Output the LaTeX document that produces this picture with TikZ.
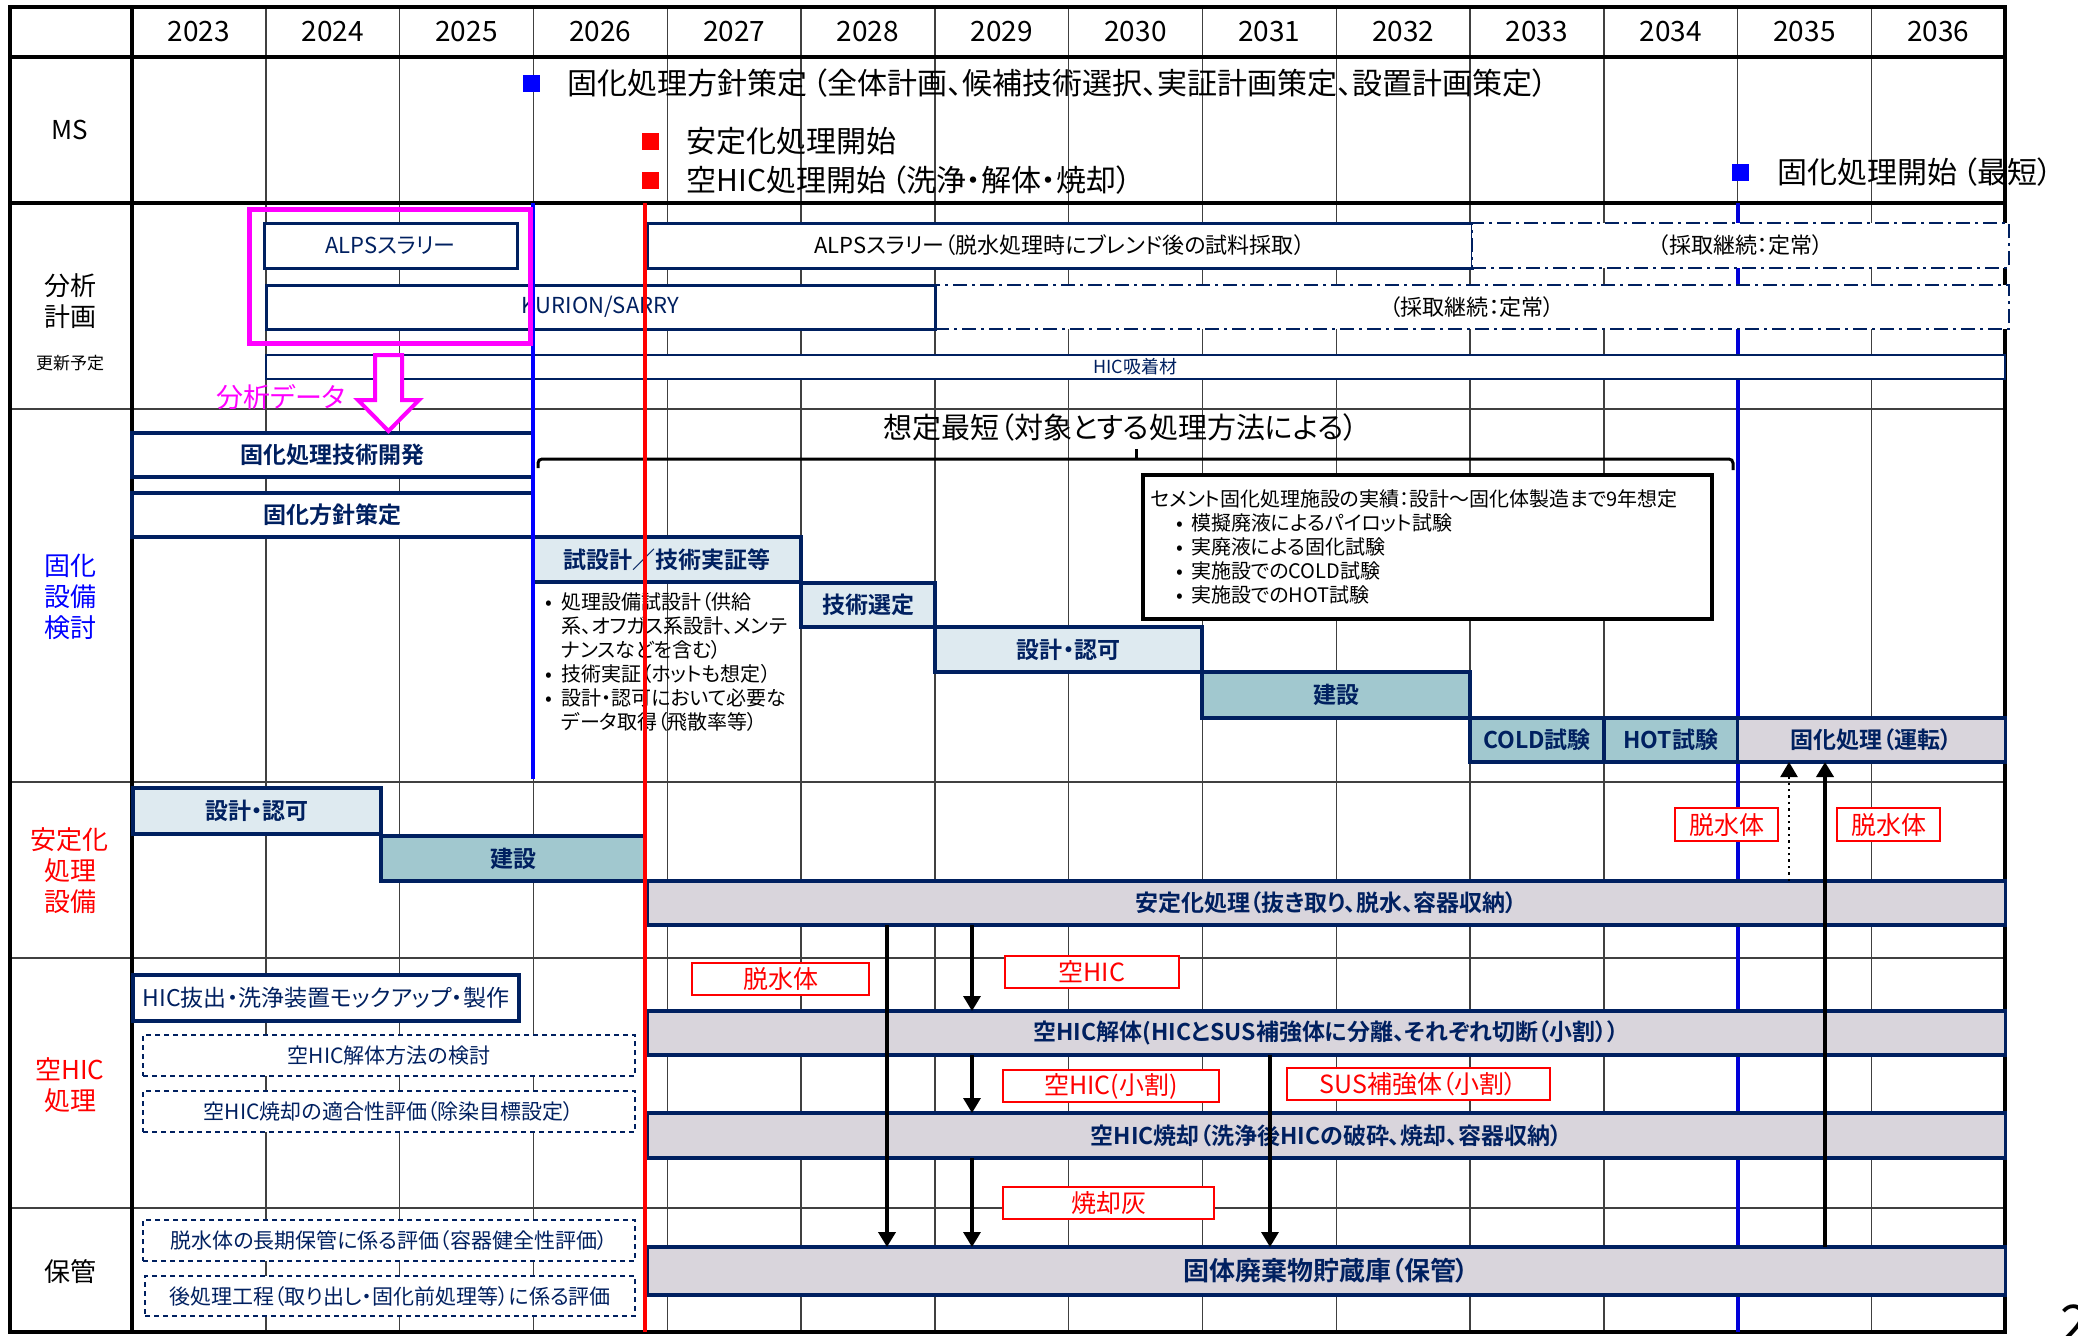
\documentclass[tikz,border=0pt]{standalone}
\usepackage{fontspec}
\setmainfont{Noto Sans CJK JP}[BoldFont={Noto Sans CJK JP Bold},RawFeature=+palt]
\usepackage{tikz}
\usetikzlibrary{arrows.meta}

\definecolor{navy}{HTML}{002060}
\definecolor{gridgray}{HTML}{404040}
\definecolor{paleblue}{HTML}{DEEAF0}
\definecolor{tealfill}{HTML}{A1C8CF}
\definecolor{lilac}{HTML}{D9D5DC}
\definecolor{msblue}{HTML}{0000FF}
\definecolor{msred}{HTML}{FF0000}
\definecolor{pink}{HTML}{FF00FF}

\begin{document}
\begin{tikzpicture}[x=0.5pt,y=-0.5pt,
	gridline/.style={draw=gridgray,line width=0.7pt},
	frame/.style={draw=black,line width=2pt},
	yearlbl/.style={font=\fontsize{14}{15}\selectfont},
	rowlbl/.style={align=center,font=\fontsize{13}{15.5}\selectfont},
	wh/.style 2 args={minimum width=#1*0.5pt,minimum height=#2*0.5pt},
	gbox/.style={draw=navy,inner sep=0pt,outer sep=0pt,text=navy},
	barfont/.style={font=\bfseries\fontsize{11.5}{13}\selectfont},
	whitebar/.style={gbox,barfont,fill=white,line width=2pt},
	palebar/.style={gbox,barfont,fill=paleblue,line width=2pt},
	tealbar/.style={gbox,barfont,fill=tealfill,line width=2pt},
	lilacbar/.style={gbox,barfont,fill=lilac,line width=1.6pt},
	anabox/.style={gbox,fill=white,line width=1.5pt,font=\fontsize{11}{13}\selectfont},
	contbox/.style={gbox,fill=white,text=black,line width=1.3pt,dash pattern=on 7pt off 2.5pt on 1.5pt off 2.5pt,font=\fontsize{11}{13}\selectfont},
	dashbox/.style={gbox,fill=white,line width=0.8pt,dash pattern=on 2.5pt off 2pt,font=\fontsize{10.5}{12}\selectfont},
	redlbl/.style={draw=msred,fill=white,line width=1.2pt,text=msred,inner sep=0pt,font=\fontsize{12.5}{14}\selectfont},
	flow/.style={draw=black,line width=1.6pt,-{Triangle[width=8.5pt,length=7.5pt]}},
	msmark/.style={fill=#1,inner sep=0pt,minimum width=8.5pt,minimum height=8.5pt},
	mstext/.style={anchor=west,inner sep=0pt,font=\fontsize{15}{17}\selectfont},
	smallnote/.style={align=left,inner sep=0pt,font=\fontsize{10}{12}\selectfont}]

	\useasboundingbox[fill=white] (0,0) rectangle (2078,1335);

	\foreach \i in {1,...,13}
	\draw[gridline] ({132+133.8*\i},7) -- ({132+133.8*\i},1332);
	\foreach \y in {409,782,958,1208,1332}
	\draw[gridline] (10,\y) -- (2005,\y);
	\draw[frame] (10,7) rectangle (2005,1332);
	\draw[frame] (132,7) -- (132,1332);
	\draw[frame] (10,57) -- (2005,57);
	\draw[frame] (10,203) -- (2005,203);

	\foreach \yr [count=\i from 0] in {2023,...,2036}
	\node[yearlbl] (y\yr) at ({132+133.8*(\i+0.5)},32) {\yr};

	\node[rowlbl] (lblms) at (70,130) {MS};
	\node[rowlbl] (lblana) at (70,301) {分析\\計画};
	\node[font=\fontsize{8.5}{10}\selectfont] (lblupd) at (70,363) {更新予定};
	\node[rowlbl,text=msblue] (lblsol) at (70,597) {固化\\設備\\検討};
	\node[rowlbl,text=msred] (lblstab) at (70,871) {安定化\\処理\\設備};
	\node[rowlbl,text=msred] (lblhic) at (70,1085) {空HIC\\処理};
	\node[rowlbl] (lblstore) at (70,1272) {保管};

	\draw[draw=blue!85!black,line width=2pt] (1737.6,203) -- (1737.6,1332);

	\node[msmark=msblue] (msA) at (531,83) {};
	\node[mstext] (msAtext) at (567,83) {固化処理方針策定\,（全体計画、候補技術選択、実証計画策定、設置計画策定）};
	\node[msmark=msred] (msB) at (650,141) {};
	\node[mstext] (msBtext) at (686,141) {安定化処理開始};
	\node[msmark=msred] (msC) at (650,180) {};
	\node[mstext] (msCtext) at (686,180) {空HIC処理開始\,（洗浄・解体・焼却）};
	\node[msmark=msblue] (msD) at (1740,172) {};
	\node[mstext] (msDtext) at (1777,172) {固化処理開始\,（最短）};

	\node[anabox,wh={253}{45}] (alpsA) at (390.5,245.5) {ALPSスラリー};
	\node[anabox,text=black,wh={825}{45}] (alpsB) at (1059.5,245.5) {ALPSスラリー（脱水処理時にブレンド後の試料採取）};
	\node[contbox,wh={537}{45}] (alpsC) at (1740.5,245.5) {（採取継続：定常）};
	\node[contbox,wh={1074}{44}] (kurionC) at (1472,307) {（採取継続：定常）};
	\node[anabox,wh={669}{44}] (kurion) at (600.5,307) {KURION/SARRY};
	\node[anabox,line width=0.8pt,wh={1739}{24},font=\fontsize{9}{10}\selectfont] (hicsorb) at (1135.5,367) {HIC吸着材};

	\node[whitebar,wh={401}{44}] (techdev) at (332.5,455) {固化処理技術開発};
	\node[whitebar,wh={401}{44}] (policy) at (332.5,515) {固化方針策定};
	\node[palebar,wh={268}{45}] (trial) at (667,559.5) {試設計／技術実証等};
	\node[palebar,wh={133.8}{44}] (select) at (868,605) {技術選定};
	\node[palebar,wh={267.6}{45}] (design) at (1068.6,649.5) {設計・認可};
	\node[tealbar,wh={267.6}{46}] (build) at (1336.2,695) {建設};
	\node[tealbar,wh={133.8}{44}] (cold) at (1536.9,740) {COLD試験};
	\node[tealbar,wh={133.8}{44}] (hot) at (1670.7,740) {HOT試験};
	\node[lilacbar,wh={267.6}{44}] (operate) at (1871.4,740) {固化処理（運転）};

	\node[smallnote,anchor=north west] (trialnote) at (545,592) {%
		\makebox[8pt][l]{•}処理設備試設計（供給\\
		\hspace*{8pt}系、オフガス系設計、メンテ\\
		\hspace*{8pt}ナンスなどを含む）\\
		\makebox[8pt][l]{•}技術実証（ホットも想定）\\
		\makebox[8pt][l]{•}設計・認可において必要な\\
		\hspace*{8pt}データ取得（飛散率等）};

	\node[font=\fontsize{14.5}{16}\selectfont] (shortest) at (1121,427) {想定最短（対象とする処理方法による）};
	\draw[line width=1.5pt,rounded corners=2pt] (538,468) -- (538,459) -- (1733,459) -- (1733,470);
	\draw[line width=1.5pt] (1136,459) -- (1136,449);

	\node[draw=black,fill=white,line width=2pt,anchor=north west,wh={569}{144},inner xsep=4pt,text width=276.5pt,align=left,font=\fontsize{10}{12}\selectfont] (cementnote) at (1141,473) {%
		セメント固化処理施設の実績：設計～固化体製造まで9年想定\\
		\hspace*{12.5pt}\makebox[7.5pt][l]{•}模擬廃液によるパイロット試験\\
		\hspace*{12.5pt}\makebox[7.5pt][l]{•}実廃液による固化試験\\
		\hspace*{12.5pt}\makebox[7.5pt][l]{•}実施設でのCOLD試験\\
		\hspace*{12.5pt}\makebox[7.5pt][l]{•}実施設でのHOT試験};

	\node[palebar,wh={248}{46}] (stabdesign) at (257,811) {設計・認可};
	\node[tealbar,wh={264}{45}] (stabbuild) at (513,858.5) {建設};
	\node[lilacbar,wh={1358.2}{44}] (stabproc) at (1326.1,903) {安定化処理（抜き取り、脱水、容器収納）};
	\node[redlbl,wh={103}{33}] (dehydA) at (1726.5,824.5) {脱水体};
	\node[redlbl,wh={103}{33}] (dehydB) at (1888.5,824.5) {脱水体};

	\node[gbox,fill=white,line width=2pt,wh={386}{46},font=\fontsize{11.5}{13}\selectfont] (mockup) at (326,998) {HIC抜出・洗浄装置モックアップ・製作};
	\node[dashbox,wh={492}{41}] (dismstudy) at (389,1055.5) {空HIC解体方法の検討};
	\node[dashbox,wh={492}{41}] (incstudy) at (389,1111.5) {空HIC焼却の適合性評価（除染目標設定）};
	\node[redlbl,wh={177}{32}] (dehydC) at (780.5,979) {脱水体};
	\node[redlbl,wh={174}{32}] (emptyhic) at (1092,972) {空HIC};
	\node[lilacbar,wh={1358.2}{44}] (dism) at (1326.1,1033) {空HIC解体(HICとSUS補強体に分離、それぞれ切断（小割））};
	\node[redlbl,wh={216}{32}] (cuthic) at (1111,1086) {空HIC(小割)};
	\node[redlbl,wh={263}{32}] (cutsus) at (1418.5,1084) {SUS補強体（小割）};
	\node[lilacbar,wh={1358.2}{45}] (incin) at (1326.1,1135.5) {空HIC焼却（洗浄後HICの破砕、焼却、容器収納）};
	\node[redlbl,wh={211}{32}] (ash) at (1108.5,1203) {焼却灰};

	\node[dashbox,wh={492}{41}] (longterm) at (389,1240.5) {脱水体の長期保管に係る評価（容器健全性評価）};
	\node[dashbox,wh={490}{40}] (postproc) at (390,1296) {後処理工程（取り出し・固化前処理等）に係る評価};
	\node[lilacbar,wh={1358.2}{48},font=\bfseries\fontsize{13}{15}\selectfont] (store) at (1326.1,1271) {固体廃棄物貯蔵庫（保管）};

	\coordinate (colA) at (887,0);
	\coordinate (colB) at (972,0);
	\coordinate (colC) at (1270,0);
	\coordinate (colD) at (1789,0);
	\coordinate (colE) at (1825,0);
	\draw[flow,line width=2pt] (colA |- stabproc.south) -- (colA |- store.north);
	\draw[flow] (colB |- stabproc.south) -- (colB |- dism.north);
	\draw[flow] (colB |- dism.south) -- (colB |- incin.north);
	\draw[flow] (colB |- incin.south) -- (colB |- store.north);
	\draw[flow] (colC |- dism.south) -- (colC |- store.north);
	\draw[flow,line width=1.2pt,dotted] (colD |- stabproc.north) -- (colD |- operate.south);
	\draw[flow,line width=2pt] (colE |- store.north) -- (colE |- operate.south);

	\draw[draw=msred,line width=2.2pt] (645,203) -- (645,1332);
	\draw[draw=msblue,line width=2.3pt] (533,203) -- (533,779);

	\node[draw=pink,line width=2.5pt,wh={281}{134}] (anaframe) at (389.5,276) {};
	\draw[draw=pink,fill=white,line width=2pt,line join=miter] (375,355) -- (402,355) -- (402,400) -- (419,400) -- (388.5,431) -- (358,400) -- (375,400) -- cycle;
	\node[text=pink,font=\fontsize{13.5}{15}\selectfont] (datalbl) at (281,397) {分析データ};

	\node[anchor=north west,inner sep=0pt,font=\fontsize{26}{28}\selectfont] (pagenum) at (2060,1304) {2};
\end{tikzpicture}
\end{document}
